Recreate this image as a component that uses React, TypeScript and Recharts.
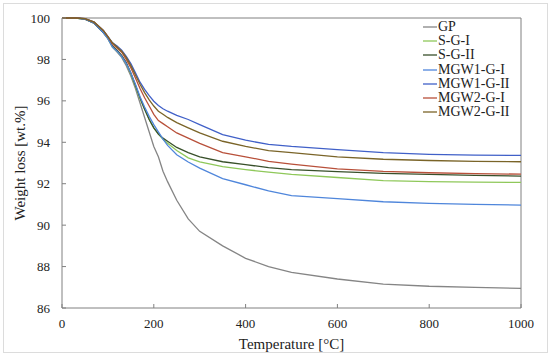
import React from "react";
import { LineChart, Line, XAxis, YAxis, ReferenceLine, Legend } from "recharts";

const temperature = [0, 30, 50, 70, 90, 100, 110, 120, 130, 140, 150, 160, 170, 180, 190, 200, 210, 220, 230, 250, 275, 300, 350, 400, 450, 500, 600, 700, 800, 900, 1000];

const gp = [100, 100, 99.95, 99.75, 99.3, 99.0, 98.6, 98.35, 98.1, 97.7, 97.2, 96.6, 95.9, 95.2, 94.5, 93.8, 93.3, 92.6, 92.1, 91.2, 90.3, 89.7, 89.0, 88.4, 88.0, 87.72, 87.4, 87.15, 87.05, 87.0, 86.95];
const sg1 = [100, 100, 99.95, 99.75, 99.3, 99.0, 98.6, 98.4, 98.15, 97.8, 97.3, 96.7, 96.1, 95.6, 95.1, 94.7, 94.4, 94.15, 93.95, 93.6, 93.25, 93.05, 92.82, 92.68, 92.56, 92.45, 92.3, 92.15, 92.1, 92.08, 92.06];
const sg2 = [100, 100, 99.95, 99.75, 99.3, 99.05, 98.65, 98.45, 98.2, 97.85, 97.35, 96.75, 96.15, 95.6, 95.1, 94.7, 94.4, 94.2, 94.05, 93.75, 93.5, 93.3, 93.06, 92.92, 92.78, 92.68, 92.58, 92.5, 92.45, 92.4, 92.37];
const mgw1g1 = [100, 100, 99.95, 99.75, 99.3, 99.0, 98.6, 98.4, 98.15, 97.8, 97.35, 96.8, 96.2, 95.7, 95.25, 94.85, 94.5, 94.15, 93.85, 93.4, 93.05, 92.75, 92.25, 91.95, 91.65, 91.42, 91.28, 91.13, 91.05, 91.0, 90.97];
const mgw1g2 = [100, 100, 99.97, 99.8, 99.4, 99.1, 98.8, 98.65, 98.45, 98.15, 97.8, 97.35, 96.9, 96.55, 96.25, 95.98, 95.78, 95.62, 95.5, 95.3, 95.1, 94.85, 94.37, 94.1, 93.9, 93.8, 93.65, 93.5, 93.42, 93.38, 93.37];
const mgw2g1 = [100, 100, 99.97, 99.8, 99.4, 99.1, 98.75, 98.55, 98.35, 98.0, 97.6, 97.1, 96.6, 96.15, 95.75, 95.35, 95.05, 94.9, 94.75, 94.45, 94.2, 93.95, 93.5, 93.3, 93.08, 92.95, 92.72, 92.6, 92.53, 92.49, 92.46];
const mgw2g2 = [100, 100, 99.97, 99.8, 99.4, 99.1, 98.8, 98.6, 98.4, 98.1, 97.7, 97.25, 96.8, 96.4, 96.05, 95.75, 95.5, 95.35, 95.2, 94.95, 94.7, 94.45, 94.05, 93.8, 93.6, 93.5, 93.3, 93.18, 93.12, 93.08, 93.06];

const seriesNames = ["GP", "S-G-I", "S-G-II", "MGW1-G-I", "MGW1-G-II", "MGW2-G-I", "MGW2-G-II"];
const seriesValues = [gp, sg1, sg2, mgw1g1, mgw1g2, mgw2g1, mgw2g2];
const seriesColors = ["#858585", "#8FC85A", "#38502A", "#4F86DB", "#4060C8", "#B8503A", "#7A6428"];

const xTicks = [0, 200, 400, 600, 800, 1000];
const yTicks = [86, 88, 90, 92, 94, 96, 98, 100];

const data = temperature.map((t, i) => {
  const row: Record<string, number> = { t };
  seriesNames.forEach((n, j) => {
    row[n] = seriesValues[j][i];
  });
  return row;
});

const font = "Liberation Serif, Times New Roman, serif";

const LegendContent = () => (
  <div style={{ fontFamily: font, fontSize: 14, color: "#222", lineHeight: "14.2px" }}>
    {seriesNames.map((n, i) => (
      <div key={n} style={{ display: "flex", alignItems: "center", height: 14.2, whiteSpace: "nowrap" }}>
        <svg width={15} height={4} style={{ display: "block", marginRight: 0 }}>
          <line x1={0} y1={2} x2={14} y2={2} stroke={seriesColors[i]} strokeWidth={1.3} />
        </svg>
        <span>{n}</span>
      </div>
    ))}
  </div>
);

const tickStyle = { fill: "#222", fontSize: 13, fontFamily: font, style: { fontFamily: font } };

export default function App() {
  return (
    <div style={{ position: "absolute", left: 0, top: 0, width: 550, height: 359, background: "#fff", fontFamily: font }}>
      <div style={{ position: "absolute", left: 3, top: 3, width: 543, height: 348, border: "1px solid #dcdcdc" }} />
      <LineChart
        width={550}
        height={359}
        data={data}
        margin={{ top: 18, right: 29, bottom: 0, left: 0 }}
        style={{ fontFamily: font }}
      >
        <XAxis
          dataKey="t"
          type="number"
          domain={[0, 1000]}
          ticks={xTicks}
          tickSize={-4}
          tickMargin={15}
          height={51}
          stroke="#808080"
          tick={tickStyle}
          label={{ value: "Temperature [°C]", position: "insideBottom", offset: 10, fill: "#222", fontSize: 15, fontFamily: font }}
        />
        <YAxis
          type="number"
          domain={[86, 100]}
          ticks={yTicks}
          tickSize={-4}
          tickMargin={16}
          width={62}
          stroke="#808080"
          tick={tickStyle}
          label={{ value: "Weight loss [wt.%]", angle: -90, position: "insideLeft", offset: 20, fill: "#222", fontSize: 15, fontFamily: font, style: { textAnchor: "middle" } }}
        />
        <ReferenceLine y={100} stroke="#808080" strokeWidth={1} />
        <ReferenceLine x={1000} stroke="#808080" strokeWidth={1} />
        {seriesNames.map((n, i) => (
          <Line
            key={n}
            dataKey={n}
            type="linear"
            stroke={seriesColors[i]}
            strokeWidth={1.3}
            dot={false}
            isAnimationActive={false}
          />
        ))}
        <Legend
          layout="vertical"
          verticalAlign="middle"
          align="center"
          content={<LegendContent />}
          wrapperStyle={{ left: 423, top: 20, width: 110 }}
        />
      </LineChart>
    </div>
  );
}
